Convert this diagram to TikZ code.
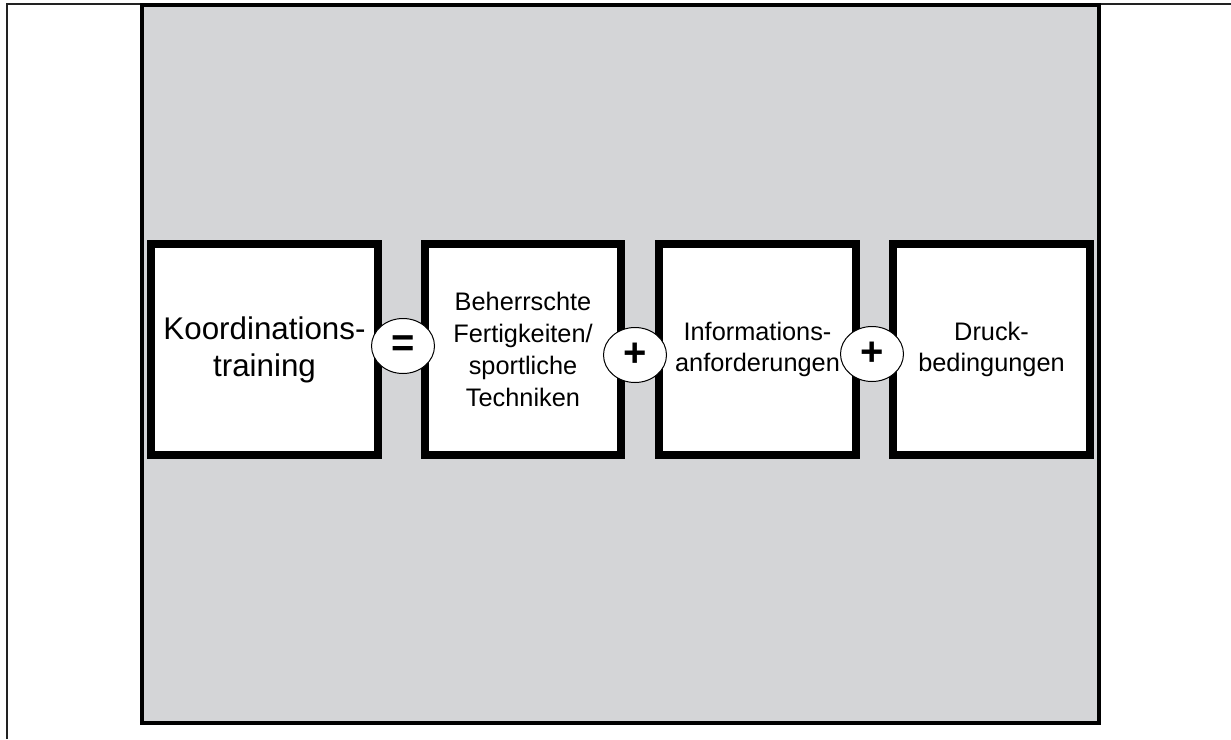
\documentclass[tikz,border=0pt]{standalone}
\usepackage{fontspec}
\setmainfont{Liberation Sans}
\usetikzlibrary{shapes.geometric}
\definecolor{panelgrey}{RGB}{212,213,215}
\definecolor{framegrey}{RGB}{34,34,34}
\tikzset{
  termbox/.style={draw=black, fill=white, line width=6pt, rectangle,
    minimum height=158.25pt, inner sep=0pt, align=center,
    font=\fontsize{19}{23.8}\selectfont},
  mainbox/.style={termbox, font=\fontsize{23.5}{27.75}\selectfont},
  opsign/.style={draw=black, fill=white, line width=0.75pt, ellipse,
    minimum width=47.25pt, minimum height=41.25pt, inner sep=0pt,
    font=\fontsize{30}{30}\bfseries\selectfont}
}
\begin{document}
\begin{tikzpicture}[x=0.75pt, y=-0.75pt]
  \useasboundingbox (0,0) rectangle (1231,739);
  % cell frame: left and top rule
  \draw[framegrey, line width=1.5pt] (7,739) -- (7,4) -- (1231,4);
  % grey panel
  \draw[black, line width=3pt, fill=panelgrey] (142,5) rectangle (1099,723);
  % term boxes
  \node[mainbox, minimum width=170.25pt] (koord) at (264.5,349.5) {Koordinations-\\training};
  \node[termbox, minimum width=147pt] (fert) at (523,349.5) {Beherrschte\\Fertigkeiten/\\sportliche\\Techniken};
  \node[termbox, minimum width=147.75pt] (info) at (757.5,349.5) {Informations-\\anforderungen};
  \node[termbox, minimum width=147.75pt] (druck) at (991.5,349.5) {Druck-\\bedingungen};
  % operators between the boxes
  \node[opsign] (eq) at (403,346) {=};
  \node[opsign] (plusA) at (635,355) {+};
  \node[opsign] (plusB) at (872,354) {+};
\end{tikzpicture}
\end{document}
